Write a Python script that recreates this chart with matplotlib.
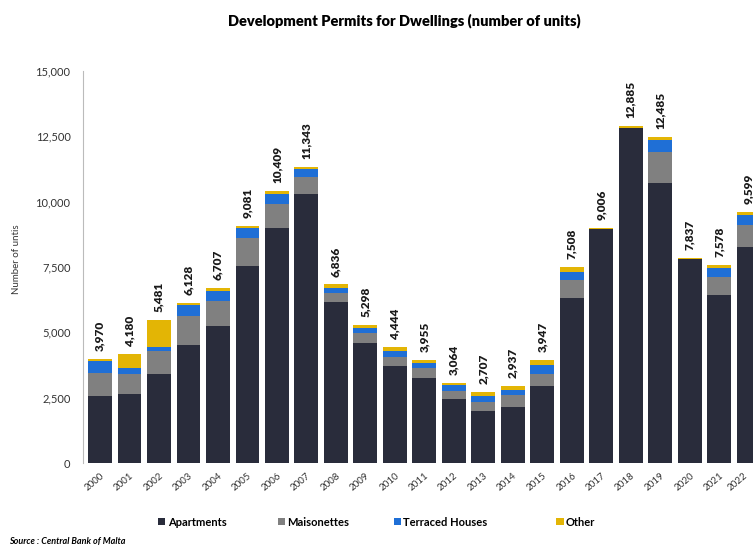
import numpy as np
import matplotlib
matplotlib.use('Agg')
import matplotlib.pyplot as plt
import matplotlib.transforms as mtransforms

years = [str(y) for y in range(2000, 2023)]
apartments = [2570, 2640, 3400, 4510, 5250, 7550, 8980, 10280, 6170, 4600, 3710, 3240,
              2450, 2000, 2150, 2960, 6300, 8960, 12820, 10730, 7800, 6430, 8250]
maisonettes = [880, 770, 890, 1110, 950, 1070, 930, 650, 350, 360, 360, 410,
               310, 350, 450, 450, 700, 0, 0, 1180, 0, 700, 850]
terraced = [450, 230, 160, 420, 380, 370, 370, 310, 170, 190, 230, 170,
            230, 220, 190, 340, 320, 0, 0, 450, 0, 320, 380]
other = [70, 540, 1031, 88, 127, 91, 129, 103, 146, 148, 144, 135,
         74, 137, 147, 197, 188, 46, 65, 125, 37, 128, 119]
totals = [3970, 4180, 5481, 6128, 6707, 9081, 10409, 11343, 6836, 5298, 4444, 3955,
          3064, 2707, 2937, 3947, 7508, 9006, 12885, 12485, 7837, 7578, 9599]

plt.rcParams['font.family'] = ['Lato', 'DejaVu Sans']

fig = plt.figure(figsize=(7.53, 5.52), dpi=100)
ax = fig.add_axes([0.1102, 0.1612, 0.8898, 0.7102])

x = np.arange(len(years))
w = 0.81
a = np.array(apartments)
m = np.array(maisonettes)
t = np.array(terraced)
o = np.array(other)

b1 = ax.bar(x, a, w, color='#292c3b', label='Apartments')
b2 = ax.bar(x, m, w, bottom=a, color='#808080', label='Maisonettes')
b3 = ax.bar(x, t, w, bottom=a + m, color='#1f6fd6', label='Terraced Houses')
b4 = ax.bar(x, o, w, bottom=a + m + t, color='#e3b505', label='Other')

# totals above the bars
for i, tot in enumerate(totals):
    top = a[i] + m[i] + t[i] + o[i]
    ax.text(x[i], top + 300, f'{tot:,}', rotation=90, ha='center', va='bottom',
            fontsize=8.5, fontweight='heavy', color='#1a1a1a')

ax.set_xlim(-0.576, 22.14)
ax.set_ylim(0, 15000)
ax.set_yticks(np.arange(0, 15001, 2500))
ax.set_yticklabels([f'{v:,}' for v in range(0, 15001, 2500)])
ax.set_xticks(x)
ax.set_xticklabels(years, rotation=40, ha='right', rotation_mode='anchor')
ax.tick_params(axis='y', length=0, labelsize=8, colors='#333333', pad=9)
ax.tick_params(axis='x', length=0, labelsize=7, colors='#333333', pad=6)

# last year label sits at the right edge; nudge it in a little
last = ax.get_xticklabels()[-1]
last.set_transform(last.get_transform() +
                   mtransforms.ScaledTranslation(-4 / 72, 0, fig.dpi_scale_trans))

for s in ['top', 'right', 'bottom']:
    ax.spines[s].set_visible(False)
ax.spines['left'].set_color('#bbbbbb')
ax.spines['left'].set_linewidth(0.8)

ax.set_ylabel('Number of untis', fontsize=7, color='#333333', labelpad=11)
ax.yaxis.set_label_coords(-0.092, 0.52)

fig.text(0.537, 0.963, 'Development Permits for Dwellings (number of units)',
         ha='center', va='center', fontsize=10.5, fontweight='heavy')

# Legend entries placed one by one, as in the source layout
leg_x = [0.210, 0.369, 0.523, 0.739]
for h, lx in zip([b1, b2, b3, b4], leg_x):
    fig.legend(handles=[h], loc='center left', bbox_to_anchor=(lx, 0.054),
               frameon=False, handlelength=0.65, handleheight=0.65,
               handletextpad=0.2, borderpad=0, borderaxespad=0,
               prop={'weight': 'bold', 'size': 8})

fig.text(0.012, 0.01, 'Source : Central Bank of Malta', fontsize=6.5,
         fontweight='bold', fontstyle='italic', ha='left', va='bottom')

fig.savefig('out.png', dpi=100)
